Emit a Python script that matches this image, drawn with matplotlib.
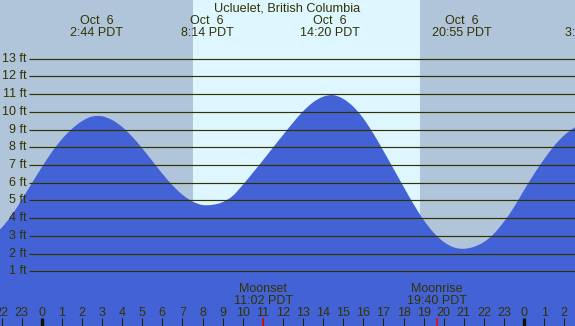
import numpy as np
import matplotlib
matplotlib.use("Agg")
import matplotlib.pyplot as plt
from matplotlib.path import Path
from matplotlib.patches import PathPatch

plt.rcParams['font.family'] = ['Liberation Sans', 'DejaVu Sans']

# ---------------- data ----------------
title = "Ucluelet, British Columbia"
# tide height (ft) every half hour, hours relative to midnight Oct 6
times = np.arange(-2.5, 27.01, 0.5)
heights = [2.9, 3.45, 4.15, 5.02, 5.95, 6.86, 7.72, 8.45, 9.03, 9.47, 9.73, 9.75,
           9.54, 9.15, 8.60, 7.94, 7.23, 6.51, 5.86, 5.32, 4.94, 4.74, 4.75, 4.9,
           5.25, 5.87, 6.55, 7.25, 7.97, 8.68, 9.38, 10.02, 10.53, 10.85, 10.94, 10.73,
           10.29, 9.63, 8.77, 7.8, 6.79, 5.78, 4.79, 3.9, 3.18, 2.66, 2.35, 2.27,
           2.38, 2.65, 3.12, 3.8, 4.62, 5.58, 6.5, 7.33, 8.08, 8.68, 9.1, 9.4]
# high/low tide events
event_hours = [2.733, 8.233, 14.333, 20.917, 27.35]
event_dates = ["Oct  6", "Oct  6", "Oct  6", "Oct  6", "Oct  7"]
event_times = ["2:44 PDT", "8:14 PDT", "14:20 PDT", "20:55 PDT", "3:21 PDT"]
# sun
sunrise, sunset = 7.53, 18.82
# moon
moon_hours = [11.033, 19.667]
moon_names = ["Moonset", "Moonrise"]
moon_times = ["11:02 PDT", "19:40 PDT"]
# grid levels and hour ticks
levels = list(range(1, 14))
hours = list(range(-2, 27))

# ---------------- style ----------------
NIGHT = '#B0C4DA'
DAY = '#DDF6FF'
WATER = '#4262D6'
INK = '#333300'
FS = 9

W, H = 575, 326
fig = plt.figure(figsize=(W / 100, H / 100), dpi=100)
ax = fig.add_axes([0, 0, 1, 1])
x0, x1 = -41.7 / 20.1, (W - 41.7) / 20.1
ax.set_xlim(x0, x1)
ax.set_ylim(-2.088, 16.309)
ax.axis('off')

ax.axvspan(x0, x1, color=NIGHT, lw=0, zorder=0)
ax.axvspan(sunrise, sunset, color=DAY, lw=0, zorder=0.5)

# smooth water surface: Catmull-Rom spline rendered as Bezier path through the readings
P = np.column_stack([times, heights])
verts = [tuple(P[0])]
codes = [Path.MOVETO]
n = len(P)
for i in range(n - 1):
    p0 = P[i - 1] if i > 0 else P[i]
    p1, p2 = P[i], P[i + 1]
    p3 = P[i + 2] if i + 2 < n else P[i + 1]
    c1 = p1 + (p2 - p0) / 6.0
    c2 = p2 - (p3 - p1) / 6.0
    verts += [tuple(c1), tuple(c2), tuple(p2)]
    codes += [Path.CURVE4] * 3
bottom = -5
verts += [(times[-1], bottom), (times[0], bottom), tuple(P[0])]
codes += [Path.LINETO, Path.LINETO, Path.CLOSEPOLY]
ax.add_patch(PathPatch(Path(verts, codes), facecolor=WATER, edgecolor='none',
                       lw=0, zorder=1))

ytr = ax.get_yaxis_transform()
xtr = ax.get_xaxis_transform()
for lv in levels:
    ax.plot([29 / W, 1], [lv, lv], transform=ytr, color=INK, lw=0.85, zorder=2,
            solid_capstyle='butt')
    ax.text(27 / W, lv, f"{lv} ft", transform=ytr, ha='right', va='center',
            fontsize=FS, color=INK, zorder=3)

ax.text(0.5, 1 - 8.5 / H, title, transform=ax.transAxes, ha='center', va='center',
        fontsize=FS + 0.2, color=INK, zorder=3)
for h, d, t in zip(event_hours, event_dates, event_times):
    ax.text(h, 1 - 21 / H, d, transform=xtr, ha='center', va='center',
            fontsize=FS, color=INK, zorder=3)
    ax.text(h, 1 - 33 / H, t, transform=xtr, ha='center', va='center',
            fontsize=FS, color=INK, zorder=3)

for h in hours:
    lw = 2.4 if h % 24 == 0 else 0.75
    ax.plot([h, h], [0, 8 / H], transform=xtr, color='#222200' if h % 24 else '#111100',
            lw=lw, zorder=3, solid_capstyle='butt')
    ax.text(h, 13.5 / H, str(h % 24), transform=xtr, ha='center', va='center',
            fontsize=FS, color=INK, zorder=3)

for h, n_, t in zip(moon_hours, moon_names, moon_times):
    ax.plot([h, h], [0, 8 / H], transform=xtr, color='red', lw=1.1, zorder=4,
            solid_capstyle='butt')
    ax.text(h, 1 - 288.5 / H, n_, transform=xtr, ha='center', va='center',
            fontsize=FS, color=INK, zorder=3)
    ax.text(h, 1 - 300.5 / H, t, transform=xtr, ha='center', va='center',
            fontsize=FS, color=INK, zorder=3)

fig.savefig('out.png', dpi=100)
